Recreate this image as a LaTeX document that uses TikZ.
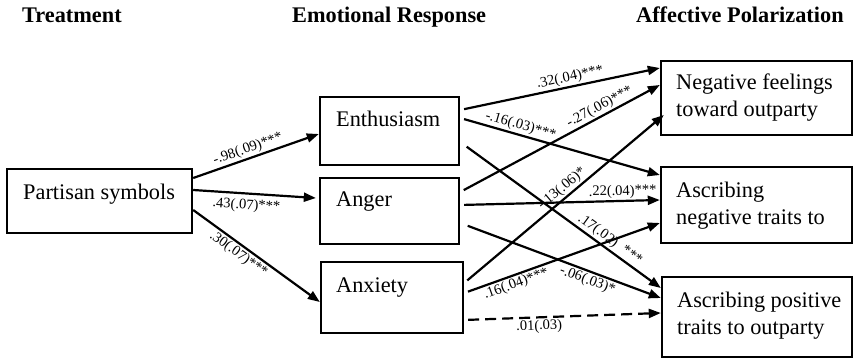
\documentclass[tikz,border=0pt]{standalone}
\usepackage{fontspec}
\setmainfont{Liberation Serif}
\usetikzlibrary{arrows.meta}
\tikzset{
  box/.style={draw, line width=2.4pt, inner sep=0pt},
  txt/.style={anchor=base west, inner sep=0pt, font=\fontsize{22.3}{26}\selectfont},
  hdr/.style={anchor=base west, inner sep=0pt, font=\fontsize{22.3}{26}\selectfont\bfseries},
  arr/.style={line width=2.2pt, -{Triangle[length=12pt,width=9pt]}},
  lab/.style={font=\fontsize{14.5}{16}\selectfont, sloped, inner sep=1.5pt},
}
\begin{document}
\begin{tikzpicture}[x=1pt,y=-1pt]
\useasboundingbox (0,0) rectangle (854,358);
% headers
\node[hdr] (h1) at (22,23) {Treatment};
\node[hdr] (h2) at (292,23) {Emotional Response};
\node[hdr] (h3) at (636,23) {Affective Polarization};
% boxes
\node[box, minimum width=185pt, minimum height=64pt] (ps) at (99.5,201) {};
\node[box, minimum width=139pt, minimum height=68pt] (en) at (389.5,131) {};
\node[box, minimum width=139pt, minimum height=66pt] (an) at (389.5,211) {};
\node[box, minimum width=142pt, minimum height=71pt] (ax) at (392,297.5) {};
\node[box, minimum width=191pt, minimum height=74pt] (nf) at (756.5,98) {};
\node[box, minimum width=191pt, minimum height=76pt] (ng) at (756.5,205) {};
\node[box, minimum width=190pt, minimum height=80pt] (po) at (757,317) {};
% texts
\node[txt] (t1) at (23,200) {Partisan symbols};
\node[txt] (t2) at (336,127) {Enthusiasm};
\node[txt] (t3) at (336,207) {Anger};
\node[txt] (t4) at (336,292) {Anxiety};
\node[txt] (t5) at (676,90) {Negative feelings};
\node[txt] (t6) at (676,117) {toward outparty};
\node[txt] (t7) at (676,198) {Ascribing};
\node[txt] (t8) at (676,225) {negative traits to};
\node[txt] (t9) at (677,307) {Ascribing positive};
\node[txt] (t10) at (677,334) {traits to outparty};
% treatment arrows
\draw[arr] (ps.east |- 0,178) -- node[lab, above, pos=.46] {-.98(.09)***} (en.west |- 0,134);
\draw[arr] (ps.east |- 0,190) -- node[lab, below=3pt, pos=.44] {.43(.07)***} ([xshift=-3pt]an.west |- 0,198);
\draw[arr] (ps.east |- 0,210) -- node[lab, below, pos=.40] {.30(.07)***} (ax.west |- 0,302);
% enthusiasm
\draw[arr, shorten <=4pt] (en.east |- 0,110) -- node[lab, above, pos=.56] {.32(.04)***} (nf.west |- 0,68);
\draw[arr, shorten <=4pt] (en.east |- 0,118) -- node[lab, above, pos=.29] {-.16(.03)***} (ng.west |- 0,175);
\draw[arr, shorten <=8pt] (en.east |- 0,142) -- node[lab, above, pos=.72] {.17(.02)\hspace{8pt}***} (po.west |- 0,288);
% anger
\draw[arr, shorten <=4pt] (an.east |- 0,192) -- node[lab, above, pos=.72] {-.27(.06)***} (nf.west |- 0,85);
\draw[arr, shorten <=4pt] (an.east |- 0,205) -- node[lab, above, pos=.815] {.22(.04)***} (ng.west |- 0,200);
\draw[arr, shorten <=8pt] (an.east |- 0,223) -- node[lab, below, pos=.65] {-.06(.03)*} (po.west |- 0,298);
% anxiety
\draw[arr, shorten <=4pt] (ax.east |- 0,283) -- node[lab, above, pos=.52] {-.13(.06)*} ([xshift=4pt]nf.west |- 0,115);
\draw[arr, shorten <=4pt] (ax.east |- 0,293) -- node[lab, below, pos=.25] {.16(.04)***} (ng.west |- 0,223);
\draw[arr, shorten <=4pt, dash pattern=on 11pt off 6pt] (ax.east |- 0,320) -- node[lab, below, pos=.38] {.01(.03)} (po.west |- 0,313);
\end{tikzpicture}
\end{document}
